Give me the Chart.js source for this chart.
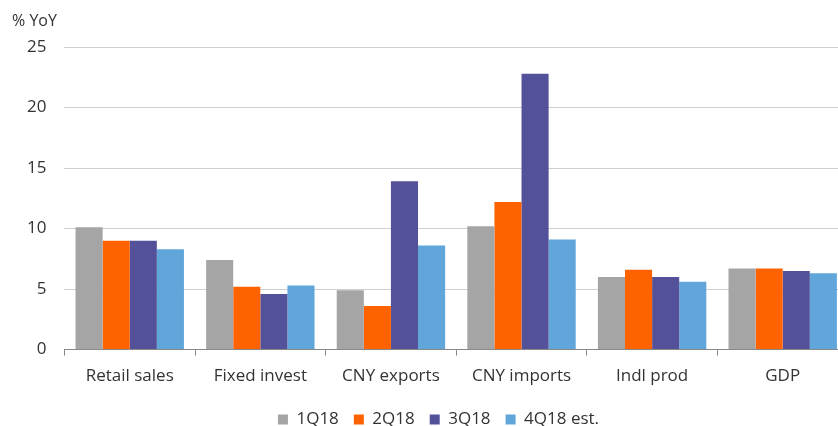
<!DOCTYPE html>
<html>
<head>
<meta charset="utf-8">
<script src="https://cdn.jsdelivr.net/npm/chart.js@4/dist/chart.umd.min.js"></script>
<style>
  html, body { margin: 0; padding: 0; background: #fff; overflow: hidden; }
  #wrap { position: relative; width: 848px; height: 438px; }
</style>
</head>
<body>
<div id="wrap"><canvas id="chart"></canvas></div>
<script>
// ── data ──────────────────────────────────────
const categories = ['Retail sales', 'Fixed invest', 'CNY exports', 'CNY imports', 'Indl prod', 'GDP'];
const seriesNames = ['1Q18', '2Q18', '3Q18', '4Q18 est.'];
const q1 = [10.1, 7.4, 4.9, 10.2, 6.0, 6.7];
const q2 = [9.0, 5.2, 3.6, 12.2, 6.6, 6.7];
const q3 = [9.0, 4.6, 13.9, 22.8, 6.0, 6.5];
const q4 = [8.3, 5.3, 8.6, 9.1, 5.6, 6.3];
const yTicks = [0, 5, 10, 15, 20, 25];

const COLORS = ['#A5A5A5', '#FF6200', '#525199', '#60A6DA'];
const FONT = '"Open Sans", sans-serif';
const TEXT = '#333333';

const datasets = [q1, q2, q3, q4].map((vals, i) => ({
  label: seriesNames[i],
  data: vals,
  backgroundColor: COLORS[i],
  borderWidth: 0,
  barPercentage: 1.0,
  categoryPercentage: 0.83,
}));

// "% YoY" caption over the value axis
const unitLabel = {
  id: 'unitLabel',
  afterDraw(chart) {
    const c = chart.ctx;
    c.save();
    c.font = '16px ' + FONT;
    c.fillStyle = TEXT;
    c.textAlign = 'left';
    c.textBaseline = 'middle';
    c.fillText('% YoY', 12, 21);
    c.restore();
  },
};

// nudge the legend a little to the right, as in the original
const legendShift = {
  id: 'legendShift',
  afterLayout(chart) {
    chart.legend.left += 10;
    chart.legend.right += 10;
  },
};

new Chart(document.getElementById('chart'), {
  type: 'bar',
  data: { labels: categories, datasets },
  plugins: [unitLabel, legendShift],
  options: {
    responsive: true,
    maintainAspectRatio: false,
    animation: false,
    layout: { padding: { top: 47, left: 9, right: 0, bottom: 0 } },
    scales: {
      x: {
        grid: { offset: true, drawOnChartArea: false, drawTicks: true, tickLength: 6, color: '#888' },
        border: { display: true, color: '#888', width: 1 },
        ticks: { color: TEXT, font: { family: FONT, size: 17 }, padding: 10, maxRotation: 0 },
      },
      y: {
        min: 0, max: 25,
        afterBuildTicks: axis => { axis.ticks = yTicks.map(v => ({ value: v })); },
        grid: { color: '#CFCFCF', drawTicks: false },
        border: { display: false },
        ticks: { color: TEXT, font: { family: FONT, size: 17 }, padding: 18 },
      },
    },
    plugins: {
      legend: {
        position: 'bottom',
        labels: {
          color: TEXT,
          font: { family: FONT, size: 17 },
          boxWidth: 10, boxHeight: 10,
          padding: 15,
        },
      },
      tooltip: { enabled: false },
    },
  },
});
</script>
</body>
</html>
